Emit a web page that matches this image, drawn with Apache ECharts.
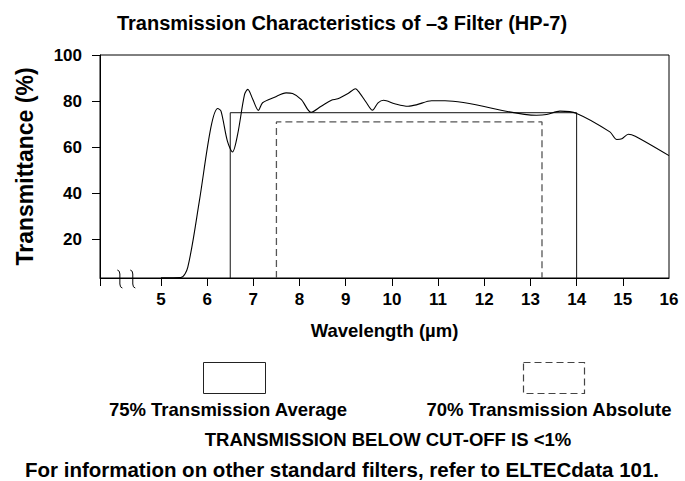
<!DOCTYPE html>
<html><head><meta charset="utf-8">
<script src="https://cdn.jsdelivr.net/npm/echarts@6/dist/echarts.min.js"></script>
<style>html,body{margin:0;padding:0;background:#fff}#c{width:685px;height:481px}</style>
</head><body><div id="c"></div>
<script>
// ---- data ----
const wavelength = [5.0, 5.43, 5.58, 5.83, 6.08, 6.23, 6.30, 6.44, 6.55, 6.66, 6.81, 6.88, 6.99, 7.11, 7.20, 7.46, 7.71, 7.85, 8.04, 8.25, 8.47, 8.69, 8.83, 9.05, 9.21, 9.30, 9.45, 9.58, 9.70, 9.82, 10.06, 10.35, 10.53, 10.86, 11.15, 13.13, 13.35, 13.64, 14.0, 14.72, 14.87, 14.98, 15.12, 15.27, 16.0];
const transmittance = [3.5, 3.6, 8.0, 36.6, 68.5, 76.8, 75.7, 62.6, 58.0, 65.6, 82.9, 85.1, 80.7, 76.0, 79.3, 81.7, 83.6, 83.3, 80.7, 75.2, 77.8, 80.4, 81.0, 83.3, 85.4, 83.6, 79.3, 76.1, 79.3, 80.4, 78.9, 77.8, 78.4, 80.2, 80.2, 73.9, 74.2, 75.7, 74.7, 66.7, 63.4, 63.7, 65.7, 64.8, 56.4];
const averageBand = { from: 6.5, to: 14.0, level: 75 };
const absoluteBand = { from: 7.5, to: 13.25, level: 71 };
const xMin = 3.68, xMax = 16, yMin = 3.4, yMax = 100;
const xTickValues = [xMin, 5, 6, 7, 8, 9, 10, 11, 12, 13, 14, 15];
const xLabelValues = [5, 6, 7, 8, 9, 10, 11, 12, 13, 14, 15, 16];
const yTickValues = [20, 40, 60, 80, 100];
const axisBreakAt = [4.11, 4.39];
const titleText = 'Transmission Characteristics of \u20133 Filter (HP-7)';
const xName = 'Wavelength (\u00b5m)';
const yName = 'Transmittance (%)';
const legendLabels = ['75% Transmission Average', '70% Transmission Absolute'];
const noteText = 'TRANSMISSION BELOW CUT-OFF IS <1%';
const footerText = 'For information on other standard filters, refer to ELTECdata 101.';

// ---- chart ----
const FONT = '"Liberation Sans", Arial, Helvetica, sans-serif';
const curve = wavelength.map((x, i) => [x, transmittance[i]]);
const band = b => [[b.from, yMin], [b.from, b.level], [b.to, b.level], [b.to, yMin]];

const chart = echarts.init(document.getElementById('c'), null, { renderer: 'svg' });
const option = {
  animation: false,
  backgroundColor: '#fff',
  grid: { left: 100, right: 16, top: 55, bottom: 203, containLabel: false, outerBoundsMode: 'none',
          show: true, borderColor: '#000', borderWidth: 1 },
  xAxis: {
    type: 'value', min: xMin, max: xMax,
    name: xName, nameLocation: 'middle', nameGap: 43,
    nameTextStyle: { fontFamily: FONT, fontWeight: 'bold', fontSize: 18.5, color: '#000' },
    axisLine: { show: true, lineStyle: { color: '#000', width: 1 } },
    axisTick: { show: true, length: 8, lineStyle: { color: '#000' }, customValues: xTickValues },
    axisLabel: { customValues: xLabelValues, margin: 13, fontFamily: FONT, fontWeight: 'bold', fontSize: 17, color: '#000', showMinLabel: true, showMaxLabel: true },
    splitLine: { show: false }
  },
  yAxis: {
    type: 'value', min: yMin, max: yMax,
    name: yName, nameLocation: 'middle', nameGap: 64,
    nameTextStyle: { fontFamily: FONT, fontWeight: 'bold', fontSize: 23, color: '#000' },
    axisLine: { show: true, lineStyle: { color: '#000', width: 1 } },
    axisTick: { show: true, length: 8, lineStyle: { color: '#000' }, customValues: yTickValues },
    axisLabel: { customValues: yTickValues, margin: 18, fontFamily: FONT, fontWeight: 'bold', fontSize: 17, color: '#000' },
    splitLine: { show: false }
  },
  series: [
    { type: 'line', data: band(averageBand), symbol: 'none', lineStyle: { color: '#111', width: 1 }, z: 2 },
    { type: 'line', data: band(absoluteBand), symbol: 'none', lineStyle: { color: '#555', width: 1.3, type: [7, 4] }, z: 2 },
    { type: 'line', data: curve, symbol: 'none', smooth: 0.3, lineStyle: { color: '#000', width: 1.1 }, z: 3 }
  ]
};
chart.setOption(option);

const txt = (text, x, y, size) => ({ type: 'text', x, y, style: { text, fill: '#000', font: 'bold ' + size + 'px ' + FONT, align: 'center', verticalAlign: 'middle' } });
const g = [
  txt(titleText, 342, 23, 20),
  { type: 'rect', shape: { x: 203.5, y: 362.5, width: 62, height: 31 }, style: { fill: 'none', stroke: '#222', lineWidth: 1 } },
  { type: 'rect', shape: { x: 523.5, y: 362.5, width: 61, height: 31 }, style: { fill: 'none', stroke: '#444', lineWidth: 1.2, lineDash: [7, 4] } },
  txt(legendLabels[0], 228, 409, 18.5),
  txt(legendLabels[1], 549, 409, 18.5),
  txt(noteText, 388, 439, 18.5),
  txt(footerText, 342, 469, 20.5)
];
const stroke = { fill: 'none', stroke: '#000', lineWidth: 1 };
axisBreakAt.forEach(v => {
  const p = chart.convertToPixel({ gridIndex: 0 }, [v, yMin]);
  const cx = p[0], py = p[1];
  g.push({ type: 'bezierCurve', shape: { x1: cx - 2.5, y1: py - 8, cpx1: cx, cpy1: py - 7.5, x2: cx, y2: py - 4 }, style: stroke, z: 10 });
  g.push({ type: 'line', shape: { x1: cx, y1: py - 4, x2: cx, y2: py + 6 }, style: stroke, z: 10 });
  g.push({ type: 'bezierCurve', shape: { x1: cx, y1: py + 6, cpx1: cx, cpy1: py + 9.5, x2: cx + 2.5, y2: py + 10 }, style: stroke, z: 10 });
});
chart.setOption({ graphic: g });
</script></body></html>
